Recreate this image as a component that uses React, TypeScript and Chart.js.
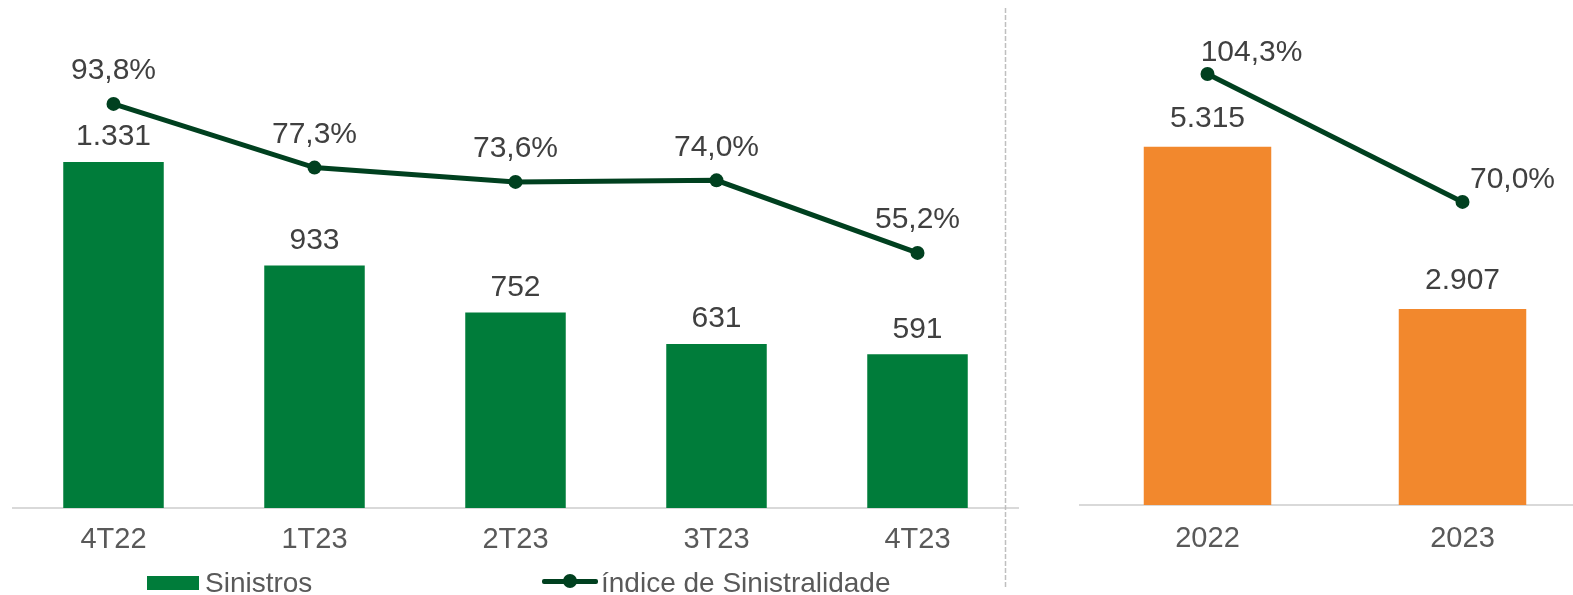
import React, { useEffect, useRef } from "react";
import { Chart, registerables } from "chart.js";

Chart.register(...registerables);

const quarterLabels = ["4T22", "1T23", "2T23", "3T23", "4T23"];
const quarterClaims = [1331, 933, 752, 631, 591];
const quarterRatio = [93.8, 77.3, 73.6, 74.0, 55.2];

const yearLabels = ["2022", "2023"];
const yearClaims = [5315, 2907];
const yearRatio = [104.3, 70.0];

const FONT = "'Liberation Sans', Arial, sans-serif";
const GREEN = "#007C3A";
const DARK = "#00401F";
const ORANGE = "#F2882D";
const LABEL_COLOR = "#404040";
const TICK_COLOR = "#595959";

function fmtInt(v: number): string {
  const s = String(Math.round(v));
  return s.replace(/\B(?=(\d{3})+(?!\d))/g, ".");
}
function fmtPct(v: number): string {
  return v.toFixed(1).replace(".", ",") + "%";
}

function makeLabelPlugin(barOffset: number, lineOffsets: { dx: number; dy: number }[]) {
  return {
    id: "valueLabels",
    afterDatasetsDraw(chart: any) {
      const ctx = chart.ctx;
      ctx.save();
      ctx.font = `30px ${FONT}`;
      ctx.fillStyle = LABEL_COLOR;
      ctx.textAlign = "center";
      ctx.textBaseline = "middle";
      chart.data.datasets.forEach((ds: any, di: number) => {
        const meta = chart.getDatasetMeta(di);
        meta.data.forEach((el: any, i: number) => {
          const v = ds.data[i];
          if (ds.type === "line") {
            const o = lineOffsets[i] || { dx: 0, dy: -33 };
            ctx.fillText(fmtPct(v), el.x + o.dx, el.y + o.dy);
          } else {
            ctx.fillText(fmtInt(v), el.x, el.y - barOffset);
          }
        });
      });
      ctx.restore();
    },
  };
}

const separatorPlugin = {
  id: "separator",
  afterDraw(chart: any) {
    const ctx = chart.ctx;
    ctx.save();
    ctx.strokeStyle = "#BFBFBF";
    ctx.lineWidth = 1.5;
    ctx.setLineDash([5, 2]);
    ctx.beginPath();
    ctx.moveTo(1005.5, 8);
    ctx.lineTo(1005.5, 588);
    ctx.stroke();
    ctx.restore();
  },
};

function buildConfig(
  labels: string[],
  claims: number[],
  ratio: number[],
  barColor: string,
  yMax: number,
  y1Min: number,
  y1Max: number,
  xHeight: number,
  tickPad: number,
  padLeft: number,
  padRight: number,
  barPct: number,
  plugins: any[]
): any {
  return {
    type: "bar",
    data: {
      labels,
      datasets: [
        {
          type: "line",
          label: "índice de Sinistralidade",
          data: ratio,
          yAxisID: "y1",
          borderColor: DARK,
          borderWidth: 5,
          pointRadius: 7,
          pointBackgroundColor: DARK,
          pointBorderWidth: 0,
          tension: 0,
          order: 0,
        },
        {
          type: "bar",
          label: "Sinistros",
          data: claims,
          yAxisID: "y",
          backgroundColor: barColor,
          categoryPercentage: 1,
          barPercentage: barPct,
          order: 1,
        },
      ],
    },
    options: {
      responsive: false,
      animation: false,
      devicePixelRatio: 1,
      layout: { padding: { top: 20, left: padLeft, right: padRight, bottom: 0 } },
      plugins: { legend: { display: false }, tooltip: { enabled: false } },
      scales: {
        x: {
          grid: { display: false, drawTicks: false },
          border: { display: true, color: "#D9D9D9", width: 2 },
          ticks: { color: TICK_COLOR, font: { family: FONT, size: 29 }, padding: tickPad },
          afterFit: (s: any) => {
            s.height = xHeight;
          },
        },
        y: { display: false, min: 0, max: yMax },
        y1: { display: false, min: y1Min, max: y1Max },
      },
    },
    plugins,
  };
}

export default function App() {
  const leftRef = useRef<HTMLCanvasElement>(null);
  const rightRef = useRef<HTMLCanvasElement>(null);

  useEffect(() => {
    const left = new Chart(
      leftRef.current as HTMLCanvasElement,
      buildConfig(
        quarterLabels,
        quarterClaims,
        quarterRatio,
        GREEN,
        1877,
        -10.88,
        115.54,
        87,
        15,
        13,
        12,
        0.5,
        [makeLabelPlugin(25, quarterRatio.map(() => ({ dx: 0, dy: -33 }))), separatorPlugin]
      )
    );
    const right = new Chart(
      rightRef.current as HTMLCanvasElement,
      buildConfig(
        yearLabels,
        yearClaims,
        yearRatio,
        ORANGE,
        7196,
        -11.26,
        118.77,
        90,
        17,
        40,
        10,
        0.5,
        [makeLabelPlugin(28, [{ dx: 44, dy: -21 }, { dx: 50, dy: -22 }])]
      )
    );
    return () => {
      left.destroy();
      right.destroy();
    };
  }, []);

  const legendText: React.CSSProperties = {
    position: "absolute",
    fontFamily: FONT,
    fontSize: 28,
    color: TICK_COLOR,
    lineHeight: "30px",
    top: 568,
    whiteSpace: "nowrap",
  };

  return (
    <div
      style={{
        position: "fixed",
        left: 0,
        top: 0,
        width: 1573,
        height: 595,
        overflow: "hidden",
        background: "#fff",
      }}
    >
      <canvas
        ref={leftRef}
        width={1030}
        height={595}
        style={{ position: "absolute", left: 0, top: 0, width: 1030, height: 595 }}
      />
      <canvas
        ref={rightRef}
        width={560}
        height={595}
        style={{ position: "absolute", left: 1040, top: 0, width: 560, height: 595 }}
      />
      <div style={{ position: "absolute", left: 147, top: 576, width: 52, height: 14, background: GREEN }} />
      <div style={{ ...legendText, left: 205 }}>Sinistros</div>
      <div style={{ position: "absolute", left: 542, top: 579, width: 56, height: 5, background: DARK, borderRadius: 2 }} />
      <div style={{ position: "absolute", left: 563, top: 574, width: 14, height: 14, borderRadius: 7, background: DARK }} />
      <div style={{ ...legendText, left: 601 }}>índice de Sinistralidade</div>
    </div>
  );
}
